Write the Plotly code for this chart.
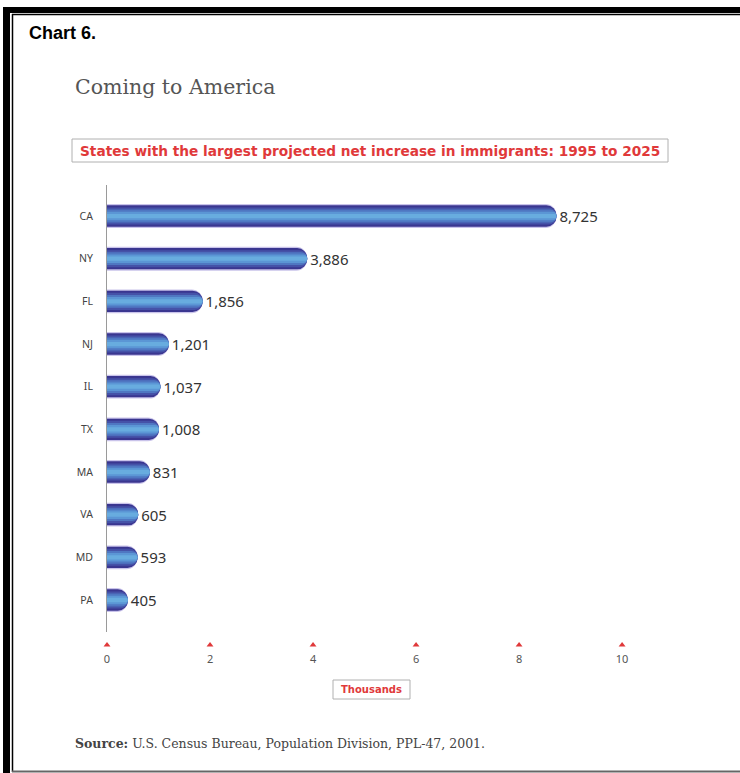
import plotly.graph_objects as go

# Projected net increase in immigrants, 1995 to 2025 (thousands of people)
states = ["CA", "NY", "FL", "NJ", "IL", "TX", "MA", "VA", "MD", "PA"]
net_increase = [8725, 3886, 1856, 1201, 1037, 1008, 831, 605, 593, 405]
tick_values = [0, 2, 4, 6, 8, 10]

W, H = 740, 773
ML, MR, MT, MB = 107, 87, 185, 122
PW, PH = W - ML - MR, H - MT - MB


def px(x):
    """page pixel x -> paper coordinate"""
    return (x - ML) / PW


def py(y):
    """page pixel y -> paper coordinate"""
    return (H - MB - y) / PH


thousands = [v / 1000 for v in net_increase]
labels = [f"{v:,}" for v in net_increase]

fig = go.Figure()

# stacked-width layers give the tube-like shading: lavender halo, dark rim,
# blue body and a light core
layers = [
    (0.56, "#c9c3ea", 12),
    (0.50, "#3a3690", 11),
    (0.40, "#4552a8", 9),
    (0.30, "#4f77c2", 7),
    (0.20, "#5b96d5", 5),
    (0.10, "#68acdf", 3),
]
for i, (w, c, r) in enumerate(layers):
    fig.add_trace(go.Bar(
        x=thousands, y=states, orientation="h", width=w,
        marker=dict(color=c, cornerradius=r, line=dict(width=0)),
        text=labels if i == 0 else None,
        textposition="outside" if i == 0 else None,
        cliponaxis=False,
        textfont=dict(family="Noto Sans", size=15, color="#333333"),
        hoverinfo="skip", showlegend=False,
    ))

# red triangle markers above each x tick label
fig.add_trace(go.Scatter(
    x=tick_values, y=[0] * len(tick_values), yaxis="y2", mode="markers",
    marker=dict(symbol="triangle-up", size=6, color="#e0393a"),
    hoverinfo="skip", showlegend=False, cliponaxis=False,
))

fig.update_layout(
    width=W, height=H,
    margin=dict(l=ML, r=MR, t=MT, b=MB),
    paper_bgcolor="white", plot_bgcolor="white",
    barmode="overlay",
    xaxis=dict(
        range=[0, 10.6], anchor="y2", tickvals=tick_values,
        showgrid=False, zeroline=False, showline=False, ticks="",
        tickfont=dict(family="Noto Sans", size=11, color="#555555"),
    ),
    yaxis=dict(
        domain=[(H - MB - 632) / PH, 1], range=[9.75, -0.727],
        categoryorder="array", categoryarray=states,
        showgrid=False, zeroline=False, showline=True,
        linecolor="#9a9a9a", linewidth=1, ticks="", ticklabelstandoff=11,
        tickfont=dict(family="Noto Sans", size=10.5, color="#444444"),
    ),
    yaxis2=dict(domain=[0, 0.026], range=[-1, 1], visible=False, fixedrange=True),
)

shapes = [
    # outer frame: thick black rule with a thin inner rule
    dict(type="rect", xref="paper", yref="paper", x0=px(3), x1=px(10), y0=py(773), y1=py(7),
         fillcolor="black", line=dict(width=0)),
    dict(type="rect", xref="paper", yref="paper", x0=px(3), x1=px(740), y0=py(13), y1=py(7),
         fillcolor="black", line=dict(width=0)),
    dict(type="line", xref="paper", yref="paper", x0=px(12), x1=px(740), y0=py(14.5), y1=py(14.5),
         line=dict(color="black", width=1.5)),
    dict(type="line", xref="paper", yref="paper", x0=px(12.5), x1=px(12.5), y0=py(14), y1=py(772),
         line=dict(color="black", width=1.5)),
    dict(type="line", xref="paper", yref="paper", x0=px(12), x1=px(740), y0=py(771.5), y1=py(771.5),
         line=dict(color="#666666", width=2)),
    # subtitle box
    dict(type="rect", xref="paper", yref="paper", x0=px(72), x1=px(668), y0=py(162), y1=py(139),
         fillcolor="white", line=dict(color="#b0b0b0", width=1)),
    # axis unit box
    dict(type="rect", xref="paper", yref="paper", x0=px(333), x1=px(410), y0=py(699), y1=py(680),
         fillcolor="white", line=dict(color="#b0b0b0", width=1)),
]

annotations = [
    dict(text="<b>Chart 6.</b>", x=px(27), y=py(33), xanchor="left", yanchor="middle",
         font=dict(family="Liberation Sans", size=18, color="black")),
    dict(text="Coming to America", x=px(73), y=py(87), xanchor="left", yanchor="middle",
         font=dict(family="DejaVu Serif", size=20.5, color="#555555")),
    dict(text="<b>States with the largest projected net increase in immigrants: 1995 to 2025</b>",
         x=px(370), y=py(150.5), xanchor="center", yanchor="middle",
         font=dict(family="DejaVu Sans", size=13.7, color="#e0393a")),
    dict(text="<b>Thousands</b>", x=px(371.5), y=py(689.5), xanchor="center", yanchor="middle",
         font=dict(family="DejaVu Sans", size=10, color="#e0393a")),
    dict(text="<b>Source:</b> U.S. Census Bureau, Population Division, PPL-47, 2001.",
         x=px(73), y=py(743), xanchor="left", yanchor="middle",
         font=dict(family="DejaVu Serif", size=12.5, color="#444444")),
]
for a in annotations:
    a.update(xref="paper", yref="paper", showarrow=False)

fig.update_layout(shapes=shapes, annotations=annotations)

fig.write_html("out.html")
